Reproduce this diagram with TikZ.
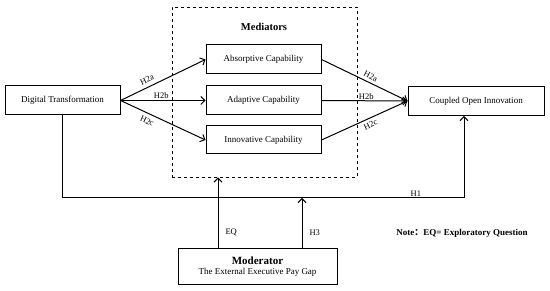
\documentclass[tikz,border=0pt]{standalone}
\usepackage{fontspec}
\setmainfont{Liberation Serif}
\newfontfamily\cjk{Noto Sans CJK SC}
\usetikzlibrary{arrows.meta}
\begin{document}
\begin{tikzpicture}[x=1pt,y=-1pt,
  every node/.style={font=\fontsize{9}{11}\selectfont},
  box/.style={draw,line width=1pt,minimum height=29pt,inner sep=0pt},
  link/.style={line width=1pt,-{Straight Barb[length=4pt,width=8pt]}},
  hyp/.style={font=\fontsize{8.5}{10}\selectfont,inner sep=1pt}]
\useasboundingbox (0,0) rectangle (550,291);
% boxes
\node[box,minimum width=115pt] (dt) at (62.5,100.5) {Digital Transformation};
\node[draw,dashed,line width=0.9pt,minimum width=185pt,minimum height=170pt] (med) at (264.5,92) {};
\node[font=\fontsize{10.5}{12}\selectfont\bfseries] (medlab) at (264,27) {Mediators};
\node[box,minimum width=115pt] (abs) at (263.5,59.5) {Absorptive Capability};
\node[box,minimum width=115pt] (ada) at (263.5,100.5) {Adaptive Capability};
\node[box,minimum width=115pt,minimum height=28pt] (inn) at (263.5,140) {Innovative Capability};
\node[box,minimum width=136pt] (coi) at (476,101) {Coupled Open Innovation};
\node[box,minimum width=159pt,minimum height=36pt,align=center] (mod) at (257.5,267)
  {{\fontsize{11}{12}\selectfont\bfseries Moderator}\\[-1pt]The External Executive Pay Gap};
% mediation paths
\draw[link] (dt.east) -- (abs.west) node[hyp,pos=0.35,sloped,above=3pt] {H2a};
\draw[link] (dt.east) -- (ada.west) node[hyp,pos=0.48,above] {H2b};
\draw[link] (dt.east) -- (inn.west) node[hyp,pos=0.35,sloped,below=3pt] {H2c};
\draw[link] (abs.east) -- (coi.west) node[hyp,pos=0.54,sloped,above=2pt] {H2a};
\draw[link] (ada.east) -- (coi.west) node[hyp,pos=0.52,above] {H2b};
\draw[link] (inn.east) -- (coi.west) node[hyp,pos=0.54,sloped,below=2pt] {H2c};
% direct path
\coordinate (h1) at (464,198);
\draw[link] (dt.south) |- node[hyp,pos=0.94,above] {H1} (h1) -- (coi.south -| h1);
% moderation
\draw[link] ([xshift=-39.5pt]mod.north) -- ([xshift=-39.5pt]mod.north |- med.south)
  node[hyp,pos=0.22,right=6pt] {EQ};
\draw[link] ([xshift=44.5pt]mod.north) -- ([xshift=44.5pt]mod.north |- h1)
  node[hyp,pos=0.31,right=6pt] {H3};
\node[font=\fontsize{9}{11}\selectfont\bfseries] (note) at (462,233) {Note{\cjk ：}EQ= Exploratory Question};
\end{tikzpicture}
\end{document}
